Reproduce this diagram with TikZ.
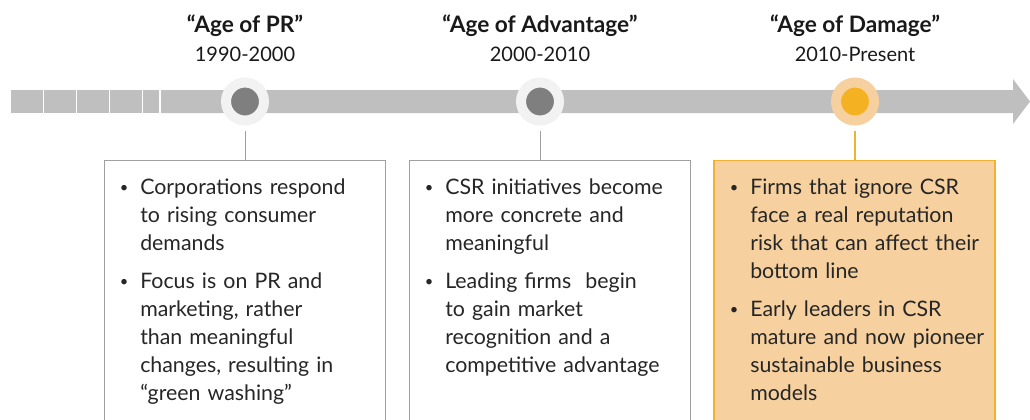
\documentclass[tikz,border=0pt]{standalone}
\usepackage{fontspec}
\setmainfont{Lato}
\usepackage{xcolor}
\usetikzlibrary{positioning}
\definecolor{bargray}{HTML}{BFBFBF}
\definecolor{ringgray}{HTML}{F2F2F2}
\definecolor{dotgray}{HTML}{7F7F7F}
\definecolor{framegray}{HTML}{A0A0A0}
\definecolor{ringorange}{HTML}{F6D09E}
\definecolor{dotorange}{HTML}{F4B223}
\definecolor{frameorange}{HTML}{F2B231}
\definecolor{bodytext}{HTML}{262626}
\newcommand\smallbullet{\raisebox{1.6pt}{\fontsize{11}{11}\selectfont\textbullet}}
\newenvironment{pointlist}{\begin{list}{\smallbullet}{%
  \setlength\leftmargin{27pt}\setlength\labelsep{9pt}%
  \setlength\labelwidth{17pt}\setlength\itemsep{7.5pt}%
  \setlength\topsep{0pt}\setlength\parsep{0pt}\setlength\partopsep{0pt}}}%
  {\end{list}}

\begin{document}
\begin{tikzpicture}[x=0.75pt, y=-0.75pt,
	head/.style={align=center, font=\fontsize{15}{21.75}\selectfont, text=black!90},
	dotmark/.style={circle, fill=dotgray, draw=ringgray, line width=7.5pt, minimum size=28.5pt, inner sep=0pt},
	hotmark/.style={dotmark, fill=dotorange, draw=ringorange},
	boxframe/.style={draw=framegray, line width=0.75pt, fill=white, minimum width=210.75pt, minimum height=210pt, anchor=north},
	hotframe/.style={boxframe, draw=frameorange, line width=1.1pt, fill=ringorange},
	body/.style={anchor=north west, text width=240pt, inner sep=0pt, align=left, text=bodytext, font=\fontsize{16}{21}\selectfont},
	link/.style={draw=framegray, line width=0.75pt, shorten <=3.75pt},
	hotlink/.style={link, draw=frameorange, line width=1.1pt}]
	\useasboundingbox (0,0) rectangle (1030,419);
	\clip (0,0) rectangle (1030,419);
	\foreach \x in {11,44,77,110}
		\fill[bargray] (\x,90) rectangle (\x+32,113);
	\fill[bargray] (143,90) rectangle (159,113);
	\fill[bargray] (161,90) -- (1013,90) -- (1013,79) -- (1030,101.5) -- (1013,124) -- (1013,113) -- (161,113) -- cycle;
	\node[head] (h1) at (245,38) {{\fontsize{17}{21.75}\selectfont\bfseries “Age of PR”}\\1990-2000};
	\node[head] (h2) at (540,38) {{\fontsize{17}{21.75}\selectfont\bfseries “Age of Advantage”}\\2000-2010};
	\node[head] (h3) at (855,38) {{\fontsize{17}{21.75}\selectfont\bfseries “Age of Damage”}\\2010-Present};
	\node[dotmark] (c1) at (245,101.5) {};
	\node[dotmark] (c2) at (540,101.5) {};
	\node[hotmark] (c3) at (855,101.5) {};
	\node[boxframe] (box1) at (244.5,160) {};
	\node[boxframe] (box2) at (549.5,160) {};
	\node[hotframe] (box3) at (854.5,160) {};
	\draw[link] (c1) -- (c1 |- box1.north);
	\draw[link] (c2) -- (c2 |- box2.north);
	\draw[hotlink] (c3) -- (c3 |- box3.north);
	\node[body] (t1) at (104,166) {\begin{pointlist}
		\item Corporations respond\newline to rising consumer\newline demands
		\item Focus is on PR and\newline marketing, rather\newline than meaningful\newline changes, resulting in\newline “green washing”
		\end{pointlist}};
	\node[body] (t2) at (409,166) {\begin{pointlist}
		\item CSR initiatives become\newline more concrete and\newline meaningful
		\item Leading firms\ \ begin\newline to gain market\newline recognition and a\newline competitive advantage
		\end{pointlist}};
	\node[body] (t3) at (714,166) {\begin{pointlist}
		\item Firms that ignore CSR\newline face a real reputation\newline risk that can affect their\newline bottom line
		\item Early leaders in CSR\newline mature and now pioneer\newline sustainable business\newline models
		\end{pointlist}};
\end{tikzpicture}
\end{document}
